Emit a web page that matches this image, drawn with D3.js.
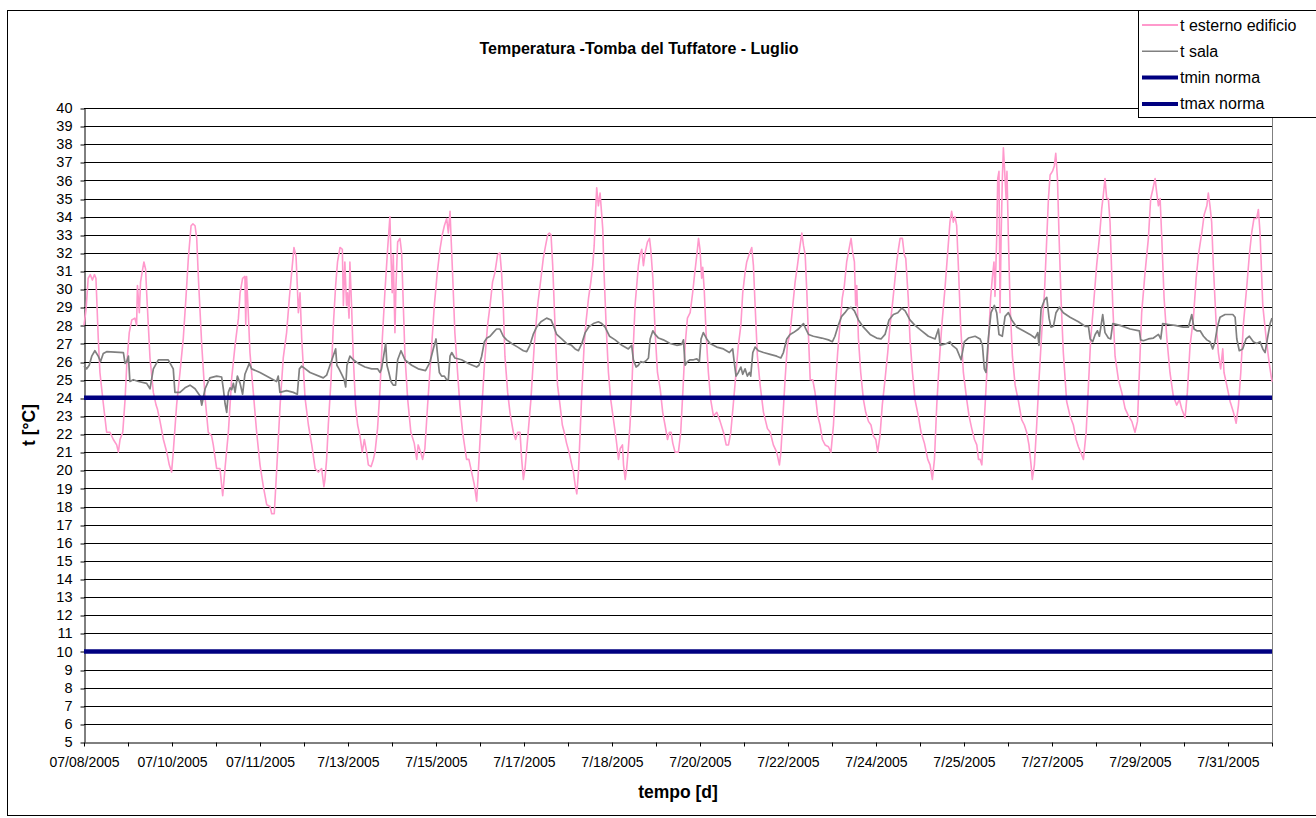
<!DOCTYPE html>
<html>
<head>
<meta charset="utf-8">
<script src="https://cdn.jsdelivr.net/npm/d3@7/dist/d3.min.js"></script>
<style>
  html, body { margin: 0; padding: 0; background: #fff; }
  svg { display: block; font-family: Arial, "Liberation Sans", sans-serif; }
</style>
</head>
<body>
<svg id="chart" width="1316" height="818"></svg>
<script>
// Hourly readings, July 2005: [hours from start, °C]
const tEsterno = [
  [0,28.0],[1,28.9],[2,30.6],[3,30.8],[4,30.5],[5,30.8],[5.7,30.6],[6.8,27.3],[7.6,25.4],[9.2,23.7],[10.8,22.1],[12.4,22.1],[14,21.7],[15.6,21.4],[16.4,21.0],[17.2,21.7],[18.5,22.1],[19.6,23.9],[20.4,25.8],[21.6,27.6],[22.8,28.3],[24.3,28.4],[25.1,28.0],[25.5,30.2],[26.4,28.7],[27,30.4],[28,31.1],[28.6,31.5],[29.4,31.1],[29.9,29.8],[30.7,28.0],[31.5,26.2],[33.1,24.3],[34.4,23.6],[35,23.4],[36.3,22.7],[37.9,21.7],[39.5,21.0],[40.7,20.3],[41.8,19.9],[42.6,21.0],[44.2,23.6],[45.8,25.4],[47.4,27.3],[48.7,29.6],[49.8,31.7],[51.1,33.5],[52,33.6],[53,33.5],[53.8,32.8],[54.6,30.6],[56.2,26.9],[57.8,24.0],[59.3,22.1],[60.9,21.9],[61.7,21.4],[63.3,20.1],[64.9,20.1],[66.2,18.6],[67.3,20.1],[68.9,22.1],[70.5,25.1],[72.1,26.9],[73.7,28.4],[74.5,29.8],[75.7,30.6],[76.8,30.7],[77.2,28.0],[77.6,30.7],[78.4,28.7],[79.2,26.5],[80.8,24.3],[82.4,22.1],[84.0,20.3],[85.6,19.1],[87.2,18.1],[88.8,18.0],[89.6,17.6],[90.8,17.6],[92.0,20.1],[93.6,23.6],[95.1,26.2],[96.7,27.6],[98.0,29.5],[99.1,30.9],[100.2,32.3],[101.2,31.8],[101.8,30.2],[102.3,28.7],[103.1,29.8],[103.9,27.3],[105.5,24.0],[107.1,22.5],[108.7,21.4],[110.3,20.1],[111.8,19.9],[113.4,20.1],[114.5,19.1],[115.0,19.5],[115.8,20.6],
  [116.6,22.5],[117.9,25.0],[119,28.0],[120.1,30.2],[121,31.5],[122.2,32.3],[123.3,32.2],[123.8,29.1],[124.5,31.5],[125.3,29.1],[125.8,29.8],[126.5,28.4],[126.9,31.5],[127.7,29.1],[128.5,26.3],[129.6,23.6],[130.6,22.5],[131.7,21.9],[132.8,21.0],[133.8,21.7],[134.9,21.0],[135.7,20.3],[137,20.2],[138.1,20.6],[138.9,21.0],[140.1,22.3],[141.3,24.5],[142.4,27.3],[143.6,29.8],[144.9,32.2],[146,34.0],[146.5,31.9],[147.1,29.8],[147.6,31.9],[148.4,27.6],[148.9,30.2],[149.7,32.6],[150.8,32.8],[151.6,32.0],[152.4,29.1],[153.2,26.3],[154.5,23.9],[156,22.1],[157.6,21.5],[158.8,20.6],[159.5,21.4],[160.7,21.0],[161.6,20.6],[162.7,21.2],[164,23.6],[165.6,26.3],[167.2,29.1],[168.6,30.9],[169.9,32.2],[171,33.0],[172,33.5],[173.1,33.9],[173.9,33.1],[174.7,34.3],[175.1,33.1],[175.9,30.9],[177,27.6],[178.3,25.4],[179.4,23.6],[180.7,22.1],[182.6,20.6],[183.7,20.6],[185,19.9],[186.3,19.2],[187.4,18.3],[188.2,19.9],[189.5,22.7],[191.1,25.8],[192.6,28.0],[193.8,29.1],[195,30.4],[196.1,30.9],[197.4,31.9],[198.5,32.0],[199.3,30.9],[200.1,29.1],[200.9,26.3],[202.2,24.3],[203.3,23.2],[204.9,22.1],[206,21.7],[207,22.1],[208.1,22.1],[208.9,20.6],[209.7,19.5],[210.5,20.1],[211.7,21.7],[213.3,23.9],[214.9,26.9],[216.5,29.1],[218.1,30.6],[219.2,31.7],[220.3,32.4],[221.3,33.0],[222.1,33.1],[222.9,33.0],[223.7,31.3],[224.8,28.0],[226,24.7],[227.2,23.6],[228.3,22.5],[229.2,22.1],[230.3,21.5],[231.5,21.0],
  [232.8,20.3],[233.6,19.9],[234.4,19.2],[235.2,18.7],[236,19.9],[236.8,22.1],[237.6,24.3],[238.7,26.9],[239.6,28.2],[240.8,29.5],[241.9,30.4],[242.8,31.3],[243.5,32.4],[244.1,34.1],[244.7,35.6],[245.5,34.6],[246.3,35.3],[247.1,34.1],[247.6,33.3],[248.2,30.9],[249.2,28.0],[250.3,25.4],[251.4,23.9],[252.7,22.8],[254,21.7],[255.1,20.6],[255.9,21.2],[257,21.4],[257.5,20.3],[258.3,19.5],[259,20.1],[259.8,21.2],[260.6,22.5],[261.4,24.3],[262.2,26.9],[263,29.1],[263.8,30.2],[264.6,31.3],[265.4,31.9],[266.2,32.2],[267,31.3],[267.8,32.0],[268.9,32.6],[269.9,32.8],[270.5,32.2],[271.5,30.6],[272.6,27.6],[273.7,25.4],[275,24.5],[276.2,23.2],[277.3,22.5],[278.5,21.7],[279.4,22.1],[280.2,22.1],[281,21.5],[282.1,21.0],[283.7,21.0],[284.8,22.1],[285.8,24.3],[286.9,26.9],[288,28.4],[289.3,28.7],[290.5,29.8],[291.5,30.9],[292.5,31.9],[293.3,32.8],[294,32.2],[294.8,30.6],[295.3,31.2],[296,30.0],[296.9,27.6],[298,25.4],[299.1,23.9],[300.4,23.0],[302,23.2],[303.6,22.7],[305.2,22.1],[306.5,21.4],[307.6,21.4],[308.7,22.1],[310,23.8],[311.2,25.4],[312.3,26.9],[313.5,28.0],[314.4,29.8],[315.5,30.9],[316.3,31.5],[317.4,31.9],[318.7,32.3],[319.5,31.3],[320.3,29.1],[321.4,26.3],[322.7,24.7],[324.3,23.2],[326.2,22.3],[327.5,22.1],[329,21.4],[330.6,21.0],[331.9,20.3],[332.6,21.0],[333.5,22.8],[334.6,25.0],[335.7,26.9],[337,27.6],[338.3,29.1],[339.4,30.4],[340.5,31.3],[341.5,32.2],[342.6,33.1],[343.4,32.4],[344.2,31.9],[345,29.8],[345.8,27.3],[346.6,25.0],[347.8,25.0],
  [348.9,24.3],[350.2,23.0],[351.3,22.5],[352.4,21.7],[353.7,21.4],[355.3,21.3],[356.5,21.0],[357.7,22.5],[358.8,24.9],[359.7,26.5],[360.8,28.0],[361.9,29.5],[362.9,30.2],[364,31.5],[364.8,32.0],[366.1,32.8],[366.9,32.0],[367.7,31.5],[368.3,29.1],[368.8,30.2],[369.6,27.3],[370.7,25.4],[372,23.9],[373.1,23.2],[374.4,22.7],[375.6,22.5],[376.7,21.9],[377.9,21.7],[378.8,21.0],[379.9,21.9],[381,23.6],[382.3,25.0],[383.6,26.5],[384.7,28.0],[385.8,29.1],[387.1,30.6],[387.9,31.5],[388.7,32.2],[389.5,32.8],[390.6,32.8],[391.5,31.9],[392.2,31.7],[393.4,29.5],[394.2,27.3],[395.4,25.4],[396.6,23.9],[398.2,23.0],[399.5,22.1],[401.1,21.5],[402.7,20.6],[403.8,20.3],[404.9,19.5],[405.9,20.6],[407,23.6],[408.1,25.8],[409.4,28.0],[410.9,30.0],[412.2,32.0],[413.3,33.7],[414.1,34.3],[414.9,33.7],[415.7,34.0],[416.5,33.5],[417.3,31.3],[418.4,28.0],[419.7,25.4],[421.3,23.9],[422.4,23.0],[423.7,22.3],[425,21.7],[426.1,21.4],[426.9,20.6],[427.7,20.6],[428.5,20.3],[429.2,21.7],[430.4,24.3],[431.6,26.9],[432.7,29.5],[433.5,30.6],[434.3,31.5],[434.8,29.6],[435.6,32.8],[436.1,36.1],[436.7,36.5],[437.2,28.7],[437.7,32.8],[438.3,36.1],[438.8,37.8],[439.6,36.1],[440.1,35.0],[440.5,36.5],[441.2,32.8],[442,29.1],[443.1,26.3],[444.4,24.7],[446,23.8],[447.5,22.8],[448.8,22.5],[449.9,22.1],[451,21.4],[452,20.3],[452.6,19.5],[453.6,20.3],[454.7,22.5],[455.8,25.0],[457.1,27.6],[458.4,29.8],[459.5,32.8],[460.3,35.0],[461.1,36.3],[462.2,36.5],[463.1,36.8],[463.8,37.5],[464.6,36.1],[465.4,32.8],[466.3,29.5],[467.4,26.5],
  [469,23.8],[470.6,23.0],[472.2,22.5],[473.5,21.7],[474.6,21.3],[475.7,21.0],[477,20.6],[478.3,22.1],[479.4,24.7],[480.5,27.3],[481.8,29.1],[483.3,31.3],[484.6,32.8],[485.7,34.4],[486.5,35.2],[487.3,36.1],[488.1,35.0],[488.9,35.0],[489.7,33.7],[491,29.1],[492.1,26.3],[493.7,25.0],[495.3,24.3],[496.9,23.4],[498.5,23.0],[500.1,22.7],[501.6,22.1],[502.8,22.7],[503.7,25.4],[504.8,28.7],[506.4,30.9],[508,32.8],[509.1,35.0],[510.1,35.5],[511.2,36.1],[512,35.3],[512.8,34.6],[513.6,35.0],[514.4,32.8],[515.5,29.5],[516.8,27.3],[518.3,25.4],[519.9,24.1],[521.5,23.6],[522.8,23.9],[523.9,23.4],[525.5,22.9],[526.6,24.3],[527.9,26.9],[529.5,28.4],[530.8,30.6],[531.9,31.9],[533.5,33.1],[534.6,34.1],[535.9,34.6],[536.6,35.3],[537.4,34.6],[538.2,33.7],[539,31.3],[540.3,28.2],[541.4,26.5],[542.5,25.6],[543.5,26.7],[544.1,25.4],[545.4,24.7],[547,23.8],[548.6,23.2],[549.9,22.6],[551,23.6],[552.1,25.4],[553.3,28.0],[555,30.2],[556.2,31.9],[557.3,33.1],[558.4,33.9],[559.7,33.9],[560.5,34.4],[561.3,33.1],[562.6,29.1],[564.2,27.3],[565.8,25.8],[567,24.9]
];

const tSala = [
  [0,25.75],[1.3,25.6],[2.5,25.8],[3.7,26.3],[5.2,26.6],[6.8,26.3],[7.9,26.0],[9.2,26.45],[10.8,26.55],[18.8,26.5],[19.6,25.9],[20.4,26.0],[21.2,26.3],[21.9,24.9],[23.5,25.0],[26,24.9],[29.9,24.8],[31.5,24.5],[33.1,25.6],[35.5,26.1],[40.2,26.1],[42.6,25.6],[43.4,24.3],[45.8,24.3],[48.2,24.55],[50.6,24.7],[53.0,24.5],[55.4,24.1],[56.2,23.6],[57.8,24.5],[60.1,25.1],[63.3,25.2],[65.7,25.15],[66.5,24.5],[67.3,23.7],[68.1,23.2],[68.9,24.3],[69.7,24.55],[70.5,24.45],[71.3,24.8],[72.1,24.3],[73.2,25.2],[74.5,24.8],[75.7,24.2],[76.8,25.3],[78.9,25.9],[80.0,25.6],[84.0,25.4],[91.9,24.9],[92.7,25.2],[93.5,24.3],[96.7,24.4],[99.9,24.3],[101.8,24.2],[102.8,25.6],[103.9,25.75],[107.9,25.4],[114.2,25.1],[115.8,25.25],[117.4,25.8],[119.5,26.5],[120.1,26.7],[120.7,25.8],[121.7,25.6],[123,25.3],[124.2,25.0],[124.9,24.6],[125.5,25.8],[126.9,26.3],[128.5,26.1],[130.9,25.9],[134.1,25.7],[137.3,25.6],[140.1,25.6],[141.3,25.4],[142,25.6],[143,26.3],[144,27.0],[144.6,25.8],[145.5,25.4],[146.5,24.9],[147.6,24.7],[148.7,24.7],[149.7,26.1],[151.3,26.6],[153.2,26.1],[156.4,25.8],[159.5,25.6],[163,25.5],[165.1,25.96],[166.7,26.7],[168,27.25],[168.8,26.3],[169.6,25.4],[170.7,25.2],[172,25.2],[173.1,25.0],[173.9,25.0],[174.7,26.3],[175.5,26.5],[177,26.2],[180.2,26.1],[183.4,25.9],[187.4,25.7],[188.5,25.8],[189.8,26.3],[191.1,27.1],[192.3,27.3],[193.8,27.4],[195.3,27.6],[196.9,27.8],[198.5,27.8],[200.1,27.4],[201.7,27.2],[204.1,27.0],[207,26.8],[209.7,26.6],[211.3,26.55],[212.8,26.9],[214.4,27.5],[216,27.9],[218.1,28.2],[220.8,28.4],[222.9,28.3],[224,28.0],[225.6,27.5],[228,27.25],[230.3,27.0],[232.7,26.9],[234.4,26.7],[236,26.6],[237.6,27.0],[239.2,27.6],[240.8,27.9],[243.1,28.1],[245.5,28.2],[247.1,28.1],[248.7,27.9],[250.8,27.4],[253.5,27.2],[256.7,26.9],[259.8,26.7],[261.4,26.9],[262.2,26.1],[263.5,25.7],[264.6,25.8],[265.7,26.0],[267,25.95],[268.3,26.05],[269.4,26.2],[270.2,27.25],[271.5,27.7],[272.6,27.5],[274.2,27.3],[276.5,27.2],[279.7,27.0],[282.9,26.9],[285.3,26.95],[286.1,27.2],[286.9,25.8],[288,26.0],[289.3,26.1],[290.9,26.1],[292.5,26.15],[293.7,26.0],[294.5,27.25],[295.6,27.6],[297.2,27.25],[298.8,27.0],[302,26.8],[305.2,26.7],[308,26.5],[309.6,26.7],[310.3,26.0],[311.2,25.2],[312.3,25.4],[313.5,25.7],[314.4,25.3],[315.5,25.6],[316.6,25.2],[317.6,25.4],[318.2,25.2],[319.2,26.5],[320.3,26.8],[321.9,26.6],[324.3,26.5],[327.5,26.4],[330.6,26.3],[332.6,26.2],[333.8,26.5],[335.4,27.25],[337,27.5],[338.6,27.6],[341,27.8],[342.6,28.0],[343.4,28.1],[344.5,27.8],[345.8,27.5],[348.1,27.4],[352.1,27.3],[355.3,27.2],[357.2,27.1],[358.4,27.4],[360,28.0],[361.6,28.5],[363.2,28.7],[364.5,28.9],[366.1,29.0],[367.7,28.8],[369.6,28.3],[372,27.9],[375.2,27.5],[378.3,27.3],[380.4,27.25],[382.3,27.5],[384.2,28.3],[386.3,28.6],[388.4,28.7],[390.3,28.95],[391.9,28.8],[394.2,28.3],[396.6,28.0],[399.8,27.7],[403,27.4],[406.2,27.25],[407.8,27.8],[408.6,26.9],[410.2,26.95],[411.7,27.0],[413.3,27.1],[414.4,26.9],[416.5,26.7],[418.6,26.1],[420.2,27.1],[422.1,27.3],[425.3,27.4],[427.7,27.25],[428.8,26.9],[429.7,25.6],[430.5,25.4],[431.6,27.25],[432.9,28.7],[434.5,29.1],[435.6,28.7],[436.7,27.5],[438.3,27.4],[439.6,28.5],[441.2,28.7],[442.8,28.3],[445.2,27.9],[448.3,27.7],[451.5,27.5],[453.9,27.3],[455.2,27.6],[455.8,26.9],[456.8,28.9],[458.4,29.4],[459.5,29.55],[460.6,28.4],[461.5,27.9],[462.7,27.95],[463.9,28.7],[465.5,29.0],[467.4,28.7],[470.6,28.45],[474.6,28.2],[477.8,27.95],[479.4,27.95],[480.2,27.25],[481.4,27.1],[482.6,27.5],[483.7,27.7],[484.6,27.4],[485.3,27.9],[486.2,28.6],[487.3,27.6],[488.9,27.3],[490,27.25],[491,28.1],[494.5,28.0],[499.3,27.8],[503.7,27.7],[504.3,27.2],[505.6,27.15],[508,27.25],[510.4,27.3],[512.8,27.5],[513.9,27.25],[514.8,28.1],[517.6,28.05],[520.7,28.0],[524.7,27.9],[527.1,27.9],[528.7,28.6],[529.8,27.8],[531.1,27.7],[532.7,27.7],[534.3,27.4],[535.9,27.2],[537.4,27.1],[538.7,26.7],[539.8,27.1],[540.9,27.9],[542.2,28.45],[544.6,28.6],[548.3,28.6],[549.4,28.45],[550.2,27.25],[551.4,26.6],[553,26.7],[554.6,27.25],[556.2,27.4],[558.1,27.1],[559.7,27.0],[561.3,27.1],[562.6,26.7],[563.7,26.5],[564.8,27.25],[566.1,28.1],[567,28.4]
];

// Limits set by the conservation norm (°C)
const tminNorma = 10;
const tmaxNorma = 24;

// Category labels shown every second tick (ticks every 21 readings)
const tickStep = 21;
const lastHour = 567;
const dateLabels = [
  "07/08/2005", "07/10/2005", "07/11/2005", "7/13/2005", "7/15/2005", "7/17/2005", "7/18/2005",
  "7/20/2005", "7/22/2005", "7/24/2005", "7/25/2005", "7/27/2005", "7/29/2005", "7/31/2005"
];
const yTicks = d3.range(5, 41);

const legendItems = [
  { name: "t esterno edificio", color: "#ff99cc", width: 2 },
  { name: "t sala", color: "#808080", width: 1.5 },
  { name: "tmin norma", color: "#000080", width: 4 },
  { name: "tmax norma", color: "#000080", width: 4 }
];

const svg = d3.select("#chart");
const plot = { left: 84, right: 1272, top: 108, bottom: 742 };

const x = d3.scaleLinear().domain([0, lastHour]).range([plot.left, plot.right]);
const y = d3.scaleLinear().domain([5, 40]).range([plot.bottom, plot.top]);

// outer chart frame
svg.append("rect")
  .attr("x", 7.5).attr("y", 10.5).attr("width", 1400).attr("height", 805)
  .attr("fill", "#fff").attr("stroke", "#000").attr("stroke-width", 1);

// horizontal gridlines
svg.append("g")
  .selectAll("line")
  .data(yTicks.filter(v => v > 5))
  .join("line")
  .attr("x1", plot.left).attr("x2", plot.right)
  .attr("y1", d => Math.round(y(d)) + 0.5).attr("y2", d => Math.round(y(d)) + 0.5)
  .attr("stroke", "#000").attr("stroke-width", 1);

// right edge of the plot area
svg.append("line")
  .attr("x1", plot.right + 0.5).attr("x2", plot.right + 0.5)
  .attr("y1", plot.top).attr("y2", plot.bottom)
  .attr("stroke", "#808080").attr("stroke-width", 1);

// y axis
const yAxis = svg.append("g")
  .attr("transform", `translate(${plot.left + 0.5},0)`)
  .call(d3.axisLeft(y).tickValues(yTicks).tickSize(4).tickSizeOuter(0).tickPadding(8).tickFormat(d3.format("d")));
yAxis.selectAll("line").attr("stroke", "#000").attr("transform", d => `translate(0,${Math.round(y(d)) + 0.5 - y(d)})`);
yAxis.select(".domain").attr("stroke", "#000");
yAxis.selectAll("text").attr("font-size", 14.5).attr("fill", "#000")
  .attr("font-family", "Arial, 'Liberation Sans', sans-serif");

// x axis
const xAxis = svg.append("g")
  .attr("transform", `translate(0,${plot.bottom + 0.5})`)
  .call(d3.axisBottom(x)
    .tickValues(d3.range(0, lastHour + 1, tickStep))
    .tickSize(4).tickSizeOuter(0).tickPadding(11)
    .tickFormat((d, i) => (i % 2 === 0 && dateLabels[i / 2]) ? dateLabels[i / 2] : ""));
xAxis.selectAll("line").attr("stroke", "#000");
xAxis.select(".domain").attr("stroke", "#000");
xAxis.selectAll("text").attr("font-size", 14).attr("fill", "#000")
  .attr("font-family", "Arial, 'Liberation Sans', sans-serif");

// series
const line = d3.line().x(d => x(d[0])).y(d => y(d[1]));

svg.append("path")
  .datum(tEsterno)
  .attr("d", line)
  .attr("fill", "none").attr("stroke", "#ff99cc").attr("stroke-width", 1.6)
  .attr("stroke-linejoin", "round");

svg.append("path")
  .datum(tSala)
  .attr("d", line)
  .attr("fill", "none").attr("stroke", "#808080").attr("stroke-width", 1.7)
  .attr("stroke-linejoin", "round");

[tminNorma, tmaxNorma].forEach(v => {
  svg.append("path")
    .datum([[0, v], [lastHour, v]])
    .attr("d", line)
    .attr("fill", "none").attr("stroke", "#000080").attr("stroke-width", 4.5);
});

// titles
svg.append("text")
  .attr("x", 639).attr("y", 54).attr("text-anchor", "middle")
  .attr("font-size", 16).attr("font-weight", "bold")
  .text("Temperatura -Tomba del Tuffatore - Luglio");

svg.append("text")
  .attr("x", (plot.left + plot.right) / 2).attr("y", 798).attr("text-anchor", "middle")
  .attr("font-size", 17.5).attr("font-weight", "bold")
  .text("tempo [d]");

svg.append("text")
  .attr("transform", `translate(35,${(plot.top + plot.bottom) / 2}) rotate(-90)`)
  .attr("text-anchor", "middle")
  .attr("font-size", 17.5).attr("font-weight", "bold")
  .text("t [°C]");

// legend
const legend = svg.append("g");
legend.append("rect")
  .attr("x", 1138.5).attr("y", 10.5).attr("width", 200).attr("height", 107)
  .attr("fill", "#fff").attr("stroke", "#000").attr("stroke-width", 1);

legendItems.forEach((item, i) => {
  const cy = 25 + i * 26.3;
  legend.append("line")
    .attr("x1", 1142).attr("x2", 1178).attr("y1", cy).attr("y2", cy)
    .attr("stroke", item.color).attr("stroke-width", item.width);
  legend.append("text")
    .attr("x", 1180).attr("y", cy + 5.5)
    .attr("font-size", 16)
    .text(item.name);
});
</script>
</body>
</html>
